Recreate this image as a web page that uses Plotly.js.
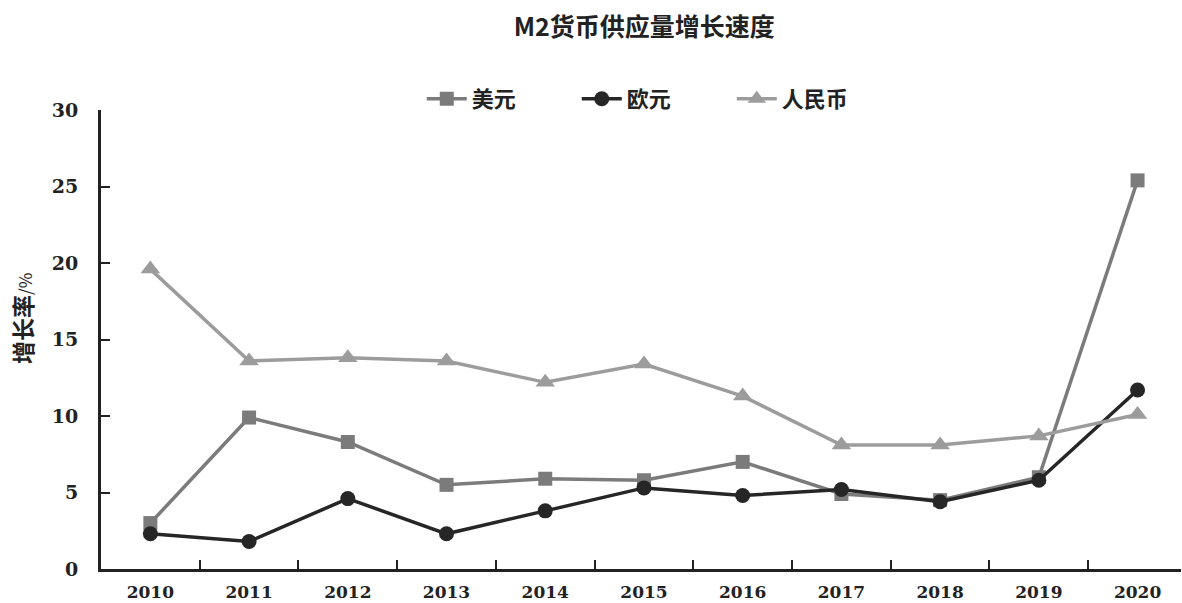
<!DOCTYPE html>
<html><head><meta charset="utf-8">
<script src="https://cdn.plot.ly/plotly-3.0.1.min.js"></script>
<style>body{margin:0;background:#fff}#c{width:1182px;height:603px}</style>
</head><body><div id="c"></div>
<script>
const years = ["2010","2011","2012","2013","2014","2015","2016","2017","2018","2019","2020"];
const usd = [3.0, 9.9, 8.3, 5.5, 5.9, 5.8, 7.0, 4.9, 4.5, 6.0, 25.4];
const eur = [2.3, 1.8, 4.6, 2.3, 3.8, 5.3, 4.8, 5.2, 4.4, 5.8, 11.7];
const cny = [19.6, 13.6, 13.8, 13.6, 12.2, 13.4, 11.3, 8.1, 8.1, 8.7, 10.1];
const names = ["美元", "欧元", "人民币"];

const cjk = "Noto Sans CJK SC, sans-serif";
const serif = "DejaVu Serif, serif";

const traces = [
  {x: years, y: usd, name: names[0], mode: "lines+markers",
   line: {color: "#7b7b7b", width: 3.5}, marker: {symbol: "square", size: 14, color: "#7b7b7b"}},
  {x: years, y: eur, name: names[1], mode: "lines+markers",
   line: {color: "#262626", width: 3.5}, marker: {symbol: "circle", size: 15, color: "#262626"}},
  {x: years, y: cny, name: names[2], mode: "lines+markers",
   line: {color: "#9c9c9c", width: 3.5}, marker: {symbol: "triangle-up", size: 17, color: "#9c9c9c"}}
];

const layout = {
  width: 1182, height: 603,
  margin: {l: 101, r: 1, t: 110, b: 34},
  paper_bgcolor: "#fff", plot_bgcolor: "#fff",
  showlegend: true,
  title: {text: "<b>M2货币供应量增长速度</b>", x: 0.545, xanchor: "center", y: 0.955, yanchor: "middle",
          font: {family: cjk, size: 25, color: "#222"}},
  legend: {orientation: "h", x: 0.297, xanchor: "left", y: 1.024, yanchor: "middle",
           font: {family: cjk, size: 22, color: "#222", weight: "bold"}, itemwidth: 40,
           entrywidth: 100, traceorder: "normal"},
  xaxis: {type: "category", range: [-0.5, 10.44], showline: true, linecolor: "#222", linewidth: 3,
          ticks: "inside", tickson: "boundaries", ticklen: 9, tickwidth: 2, tickcolor: "#222",
          showgrid: false, zeroline: false, ticklabelstandoff: 6,
          tickfont: {family: serif, size: 17, color: "#222", weight: "bold"}},
  yaxis: {range: [0, 30], dtick: 5, showline: true, linecolor: "#222", linewidth: 3,
          ticks: "inside", ticklen: 9, tickwidth: 2, tickcolor: "#222",
          showgrid: false, zeroline: false, ticklabelstandoff: 16,
          tickfont: {family: serif, size: 19, color: "#222", weight: "bold"}},
  annotations: [{
    text: "<b>增长率</b><span style='font-size:17px'>/%</span>", textangle: -90,
    xref: "paper", yref: "paper", x: -0.073, y: 0.545, xanchor: "center", yanchor: "middle",
    showarrow: false, font: {family: cjk, size: 23, color: "#222"}
  }]
};
Plotly.newPlot("c", traces, layout, {displayModeBar: false});
</script></body></html>
